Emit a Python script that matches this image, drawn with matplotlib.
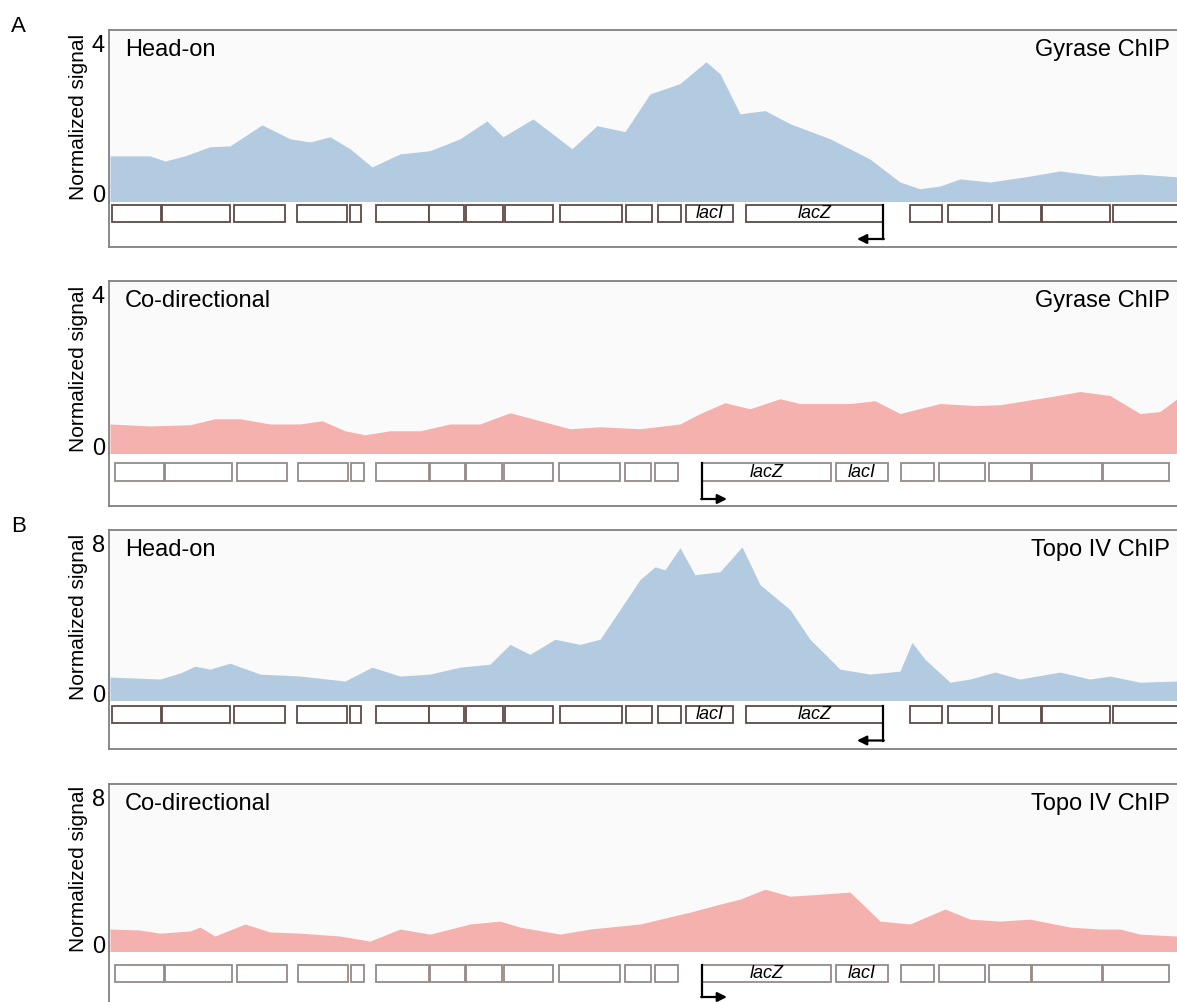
import matplotlib
import matplotlib.pyplot as plt
from matplotlib.patches import Rectangle

matplotlib.rcParams['font.family'] = ['Liberation Sans', 'DejaVu Sans']

# ---- data (positions in arbitrary genome units, signal normalized) ----
gyr_ho_pos = [1, 41, 56, 76, 101, 121, 153, 181, 201, 221, 241, 263, 291, 321, 351, 378, 394, 424,
              463, 488, 516, 541, 571, 597, 611, 631, 656, 681, 721, 761, 791, 811, 831, 851, 881,
              921, 951, 991, 1031, 1068]
gyr_ho_sig = [1.15, 1.15, 1.02, 1.15, 1.38, 1.40, 1.93, 1.58, 1.50, 1.63, 1.33, 0.87, 1.20, 1.28,
              1.58, 2.03, 1.63, 2.08, 1.33, 1.91, 1.76, 2.71, 2.97, 3.52, 3.22, 2.21, 2.29, 1.96,
              1.58, 1.07, 0.49, 0.32, 0.39, 0.57, 0.49, 0.64, 0.77, 0.64, 0.69, 0.62]

gyr_cd_pos = [1, 41, 81, 106, 131, 161, 191, 213, 236, 256, 281, 311, 341, 371, 401, 431, 461, 491,
              531, 571, 591, 616, 641, 671, 691, 741, 766, 791, 831, 866, 891, 941, 971, 1001,
              1031, 1051, 1068]
gyr_cd_sig = [0.75, 0.70, 0.73, 0.88, 0.88, 0.75, 0.75, 0.83, 0.58, 0.48, 0.58, 0.58, 0.75, 0.75,
              1.03, 0.83, 0.63, 0.68, 0.63, 0.75, 1.01, 1.28, 1.13, 1.38, 1.26, 1.26, 1.33, 1.01,
              1.26, 1.21, 1.23, 1.43, 1.56, 1.46, 1.01, 1.06, 1.38]

topo_ho_pos = [1, 51, 71, 86, 101, 121, 151, 191, 236, 263, 291, 321, 351, 381, 401, 421, 446, 471,
               491, 511, 531, 546, 556, 571, 586, 611, 633, 651, 681, 701, 731, 761, 791, 803, 816,
               841, 861, 886, 911, 951, 981, 1001, 1031, 1068]
topo_ho_sig = [1.21, 1.11, 1.41, 1.76, 1.61, 1.91, 1.36, 1.26, 1.01, 1.71, 1.26, 1.36, 1.71, 1.86,
               2.86, 2.36, 3.12, 2.86, 3.12, 4.62, 6.13, 6.78, 6.63, 7.74, 6.38, 6.53, 7.79, 5.88,
               4.62, 3.12, 1.61, 1.36, 1.51, 2.96, 2.11, 0.95, 1.11, 1.46, 1.11, 1.46, 1.11, 1.26,
               0.95, 1.01]

topo_cd_pos = [1, 31, 51, 81, 91, 106, 136, 161, 191, 231, 261, 291, 321, 361, 391, 411, 451, 481,
               531, 581, 611, 631, 656, 681, 711, 741, 771, 801, 836, 861, 891, 921, 961, 991,
               1011, 1031, 1068]
topo_cd_sig = [1.18, 1.13, 0.97, 1.08, 1.28, 0.82, 1.44, 1.03, 0.97, 0.82, 0.56, 1.18, 0.92, 1.44,
               1.59, 1.28, 0.92, 1.18, 1.44, 2.05, 2.46, 2.72, 3.23, 2.87, 2.97, 3.08, 1.59, 1.44,
               2.21, 1.69, 1.59, 1.69, 1.28, 1.18, 1.18, 0.92, 0.82]

# gene annotation (start, end, name)
genes_ho = [(3, 52, ''), (53, 121, ''), (125, 176, ''), (188, 238, ''), (241, 252, ''),
            (267, 320, ''), (320, 355, ''), (357, 394, ''), (396, 444, ''), (451, 513, ''),
            (517, 543, ''), (549, 572, ''), (577, 624, 'lacI'), (637, 774, 'lacZ'),
            (801, 833, ''), (839, 883, ''), (890, 932, ''), (933, 1001, ''), (1004, 1076, '')]
genes_cd = [(6, 55, ''), (56, 123, ''), (128, 178, ''), (189, 239, ''), (242, 255, ''),
            (267, 320, ''), (321, 356, ''), (357, 393, ''), (395, 444, ''), (450, 511, ''),
            (516, 542, ''), (546, 569, ''), (593, 722, 'lacZ'), (727, 779, 'lacI'),
            (792, 825, ''), (830, 876, ''), (880, 922, ''), (923, 993, ''), (994, 1060, '')]

# figure geometry in pixels
W, H = 1177, 1003
LEFT, RIGHT = 109, 1192
BLUE = '#b2cbe1'
PINK = '#f5b1ad'
SPINE = '#808080'

fig = plt.figure(figsize=(W / 100, H / 100), dpi=100)


def add_ax(top, bottom):
    return fig.add_axes([LEFT / W, 1 - bottom / H, (RIGHT - LEFT) / W, (bottom - top) / H])


def plot_track(top, zero, bottom, pos, sig, ymax, color, genes, edge, box, arrow_y,
               left_txt, right_txt, head_on):
    # signal part
    ax = add_ax(top, zero)
    ax.fill_between(pos, 0, sig, color=color, lw=0)
    ytop = ymax * 1.08
    ax.set_xlim(0, RIGHT - LEFT)
    ax.set_ylim(0, ytop)
    ax.set_facecolor('#fafafa')
    for s in ['bottom', 'right']:
        ax.spines[s].set_visible(False)
    for s in ['top', 'left']:
        ax.spines[s].set_color(SPINE)
        ax.spines[s].set_linewidth(1.3)
    ax.set_xticks([])
    ax.set_yticks([0, ymax])
    ax.set_yticklabels(['0', str(ymax)])
    ax.tick_params(axis='y', length=0, pad=3, labelsize=17)
    ax.get_yticklabels()[0].set_va('baseline')
    ax.set_ylabel('Normalized signal', fontsize=15, labelpad=3)
    ytxt = ytop - ytop * 19 / (zero - top)
    ax.text(16, ytxt, left_txt, fontsize=17, va='center', ha='left')
    ax.text(1061, ytxt, right_txt, fontsize=17, va='center', ha='right')

    # gene part
    gx = add_ax(zero, bottom)
    gx.set_xlim(0, RIGHT - LEFT)
    gx.set_ylim(-(bottom - zero), 0)
    gx.set_facecolor('white')
    for s in ['top', 'right']:
        gx.spines[s].set_visible(False)
    for s in ['bottom', 'left']:
        gx.spines[s].set_color(SPINE)
        gx.spines[s].set_linewidth(1.3)
    gx.set_xticks([])
    gx.set_yticks([])
    for start, end, name in genes:
        gx.add_patch(Rectangle((start, -box[1]), end - start, box[1] - box[0],
                               facecolor='white', edgecolor=edge, lw=1.3))
        if name:
            gx.text((start + end) / 2, -(box[0] + box[1]) / 2 + 0.5, name, style='italic',
                    fontsize=13, ha='center', va='center')
        if name == 'lacZ':
            x0 = end if head_on else start
            x1 = x0 - 26 if head_on else x0 + 25
            gx.plot([x0, x0], [-box[0], -arrow_y], color='k', lw=1.6)
            gx.annotate('', xy=(x1, -arrow_y), xytext=(x0 + (0.8 if head_on else -0.8), -arrow_y),
                        arrowprops=dict(arrowstyle='-|>', color='k', lw=1.6,
                                        mutation_scale=14, shrinkA=0, shrinkB=0))
    return ax


plot_track(31, 202.5, 248, gyr_ho_pos, gyr_ho_sig, 4, BLUE, genes_ho, '#5e4a47',
           (3.5, 20.5), 37.5, 'Head-on', 'Gyrase ChIP', True)
plot_track(282, 455, 507, gyr_cd_pos, gyr_cd_sig, 4, PINK, genes_cd, '#958a8a',
           (9, 27), 45, 'Co-directional', 'Gyrase ChIP', False)
plot_track(531, 702, 750, topo_ho_pos, topo_ho_sig, 8, BLUE, genes_ho, '#5e4a47',
           (4.5, 21.5), 39.5, 'Head-on', 'Topo IV ChIP', True)
plot_track(785, 953, 1006, topo_cd_pos, topo_cd_sig, 8, PINK, genes_cd, '#958a8a',
           (13, 30), 45, 'Co-directional', 'Topo IV ChIP', False)

fig.text(11 / W, 1 - 26 / H, 'A', fontsize=16, va='center')
fig.text(11 / W, 1 - 527 / H, 'B', fontsize=16, va='center')

plt.savefig('out.png', dpi=100)
